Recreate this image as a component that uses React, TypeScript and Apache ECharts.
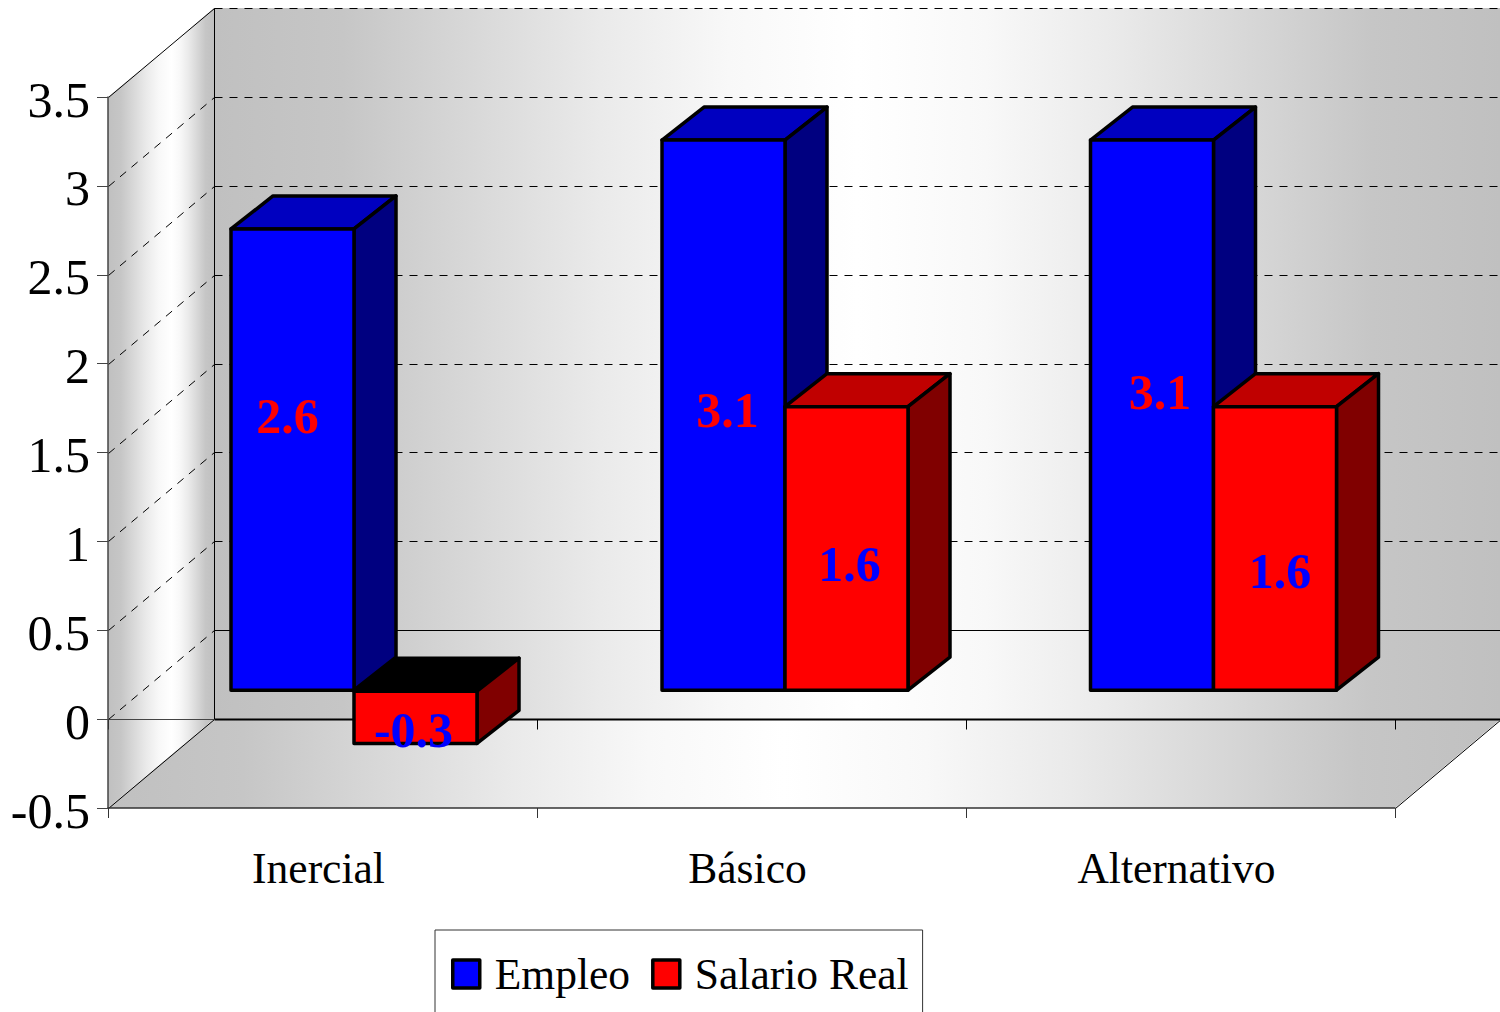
import React, { useEffect, useRef } from "react";
import * as echarts from "echarts";

const categories = ["Inercial", "Básico", "Alternativo"];
const empleo = [2.6, 3.1, 3.1];
const salarioReal = [-0.3, 1.6, 1.6];
const wallGridValues = [0, 0.5, 1, 1.5, 2, 2.5, 3];

// hand-placed data label nudges, px from the centre of each bar's front face
const empleoLabelNudge = [[-5, -44], [4, -5], [8, -23]];
const salarioLabelNudge = [[-2, 13], [3, 16], [5, 23]];
// small per-category horizontal shift of the bar pair, px
const pairShift = [-1, 1, 0.5];

const FONT = '"Liberation Serif", "Times New Roman", serif';
const WALL_DX = 106;
const WALL_DY = 89;
const BAR_SHIFT_Y = 29;
const BAR_DX = 42;
const BAR_DY = 33;
const BAR_W = 123;
const BAR_LEFT = -90.5;

const grayGrad = (mid: number) => {
  const left = [[0, 0xc0], [0.2, 0xc6], [0.4, 0xd8], [0.6, 0xea], [0.8, 0xf8]];
  const right = [[0.2, 0xf8], [0.4, 0xea], [0.6, 0xd8], [0.8, 0xc6], [1, 0xc0]];
  const hex = (g: number) => `rgb(${g},${g},${g})`;
  return new echarts.graphic.LinearGradient(0, 0, 1, 0, [
    ...left.map(([o, g]) => ({ offset: o * mid, color: hex(g) })),
    { offset: mid, color: "#ffffff" },
    ...right.map(([o, g]) => ({ offset: mid + o * (1 - mid), color: hex(g) })),
  ]);
};

const snap = (v: number) => Math.round(v) + 0.5;

const line = (x1: number, y1: number, x2: number, y2: number, style: any = {}) => ({
  type: "line",
  silent: true,
  shape: { x1: snap(x1), y1: snap(y1), x2: snap(x2), y2: snap(y2) },
  style: { stroke: "#000", lineWidth: 1, ...style },
});

function renderWalls(params: any, api: any) {
  const cs = params.coordSys;
  const x0 = cs.x;
  const x1 = cs.x + cs.width;
  const yOf = (v: number) => api.coord([0, v])[1];
  const yTop = yOf(3.5);
  const yBot = yOf(-0.5);
  const yZero = yOf(0);
  const band = api.size([1, 0])[0];
  const dash = { lineDash: [8, 7] };
  const children: any[] = [
    {
      type: "polygon",
      shape: { points: [[x0, yTop], [x0 + WALL_DX, yTop - WALL_DY], [x0 + WALL_DX, yBot - WALL_DY], [x0, yBot]] },
      style: { fill: grayGrad(0.6) },
    },
    {
      type: "rect",
      shape: { x: x0 + WALL_DX, y: yTop - WALL_DY, width: cs.width, height: yBot - yTop },
      style: { fill: grayGrad(0.5) },
    },
    {
      type: "polygon",
      shape: { points: [[x0, yBot], [x0 + WALL_DX, yBot - WALL_DY], [x1 + WALL_DX, yBot - WALL_DY], [x1, yBot]] },
      style: { fill: grayGrad(0.485) },
    },
    line(x0 + WALL_DX, yTop - WALL_DY, x1 + WALL_DX, yTop - WALL_DY, dash),
    line(x0, yTop, x0 + WALL_DX, yTop - WALL_DY),
    line(x0, yBot, x0 + WALL_DX, yBot - WALL_DY),
    line(x1, yBot, x1 + WALL_DX, yBot - WALL_DY),
    line(x0 + WALL_DX, yTop - WALL_DY, x0 + WALL_DX, yBot - WALL_DY),
    line(x0 + WALL_DX, yBot - WALL_DY, x1 + WALL_DX, yBot - WALL_DY, { lineWidth: 2 }),
    line(x0, yZero, x0 + WALL_DX, yZero, { stroke: "#444" }),
  ];
  wallGridValues.forEach((v) => {
    const y = yOf(v);
    children.push(line(x0, y, x0 + WALL_DX, y - WALL_DY, dash));
    children.push(line(x0 + WALL_DX, y - WALL_DY, x1 + WALL_DX, y - WALL_DY, v === 0 ? {} : dash));
  });
  for (let i = 0; i <= categories.length; i++) {
    const x = x0 + i * band;
    children.push(line(x, yZero, x, yZero + 10));
  }
  return { type: "group", children };
}

const makeBar = (
  slot: number,
  front: string,
  side: string,
  top: string,
  negTop: string,
  labelColor: string,
  nudges: number[][]
) =>
  function renderBar(_params: any, api: any) {
    const idx = api.value(0);
    const v = api.value(1);
    const [cx, y0raw] = api.coord([idx, 0]);
    const y1raw = api.coord([idx, v])[1];
    const y0 = y0raw - BAR_SHIFT_Y;
    const y1 = y1raw - BAR_SHIFT_Y;
    const yT = Math.min(y0, y1) + 1;
    const yB = Math.max(y0, y1);
    const l = cx + BAR_LEFT + pairShift[idx] + slot * BAR_W;
    const r = l + BAR_W;
    const stroke = { stroke: "#000", lineWidth: 3.5, lineJoin: "round" };
    const n = nudges[idx];
    return {
      type: "group",
      children: [
        {
          type: "polygon",
          shape: { points: [[l, yT], [l + BAR_DX, yT - BAR_DY], [r + BAR_DX, yT - BAR_DY], [r, yT]] },
          style: { fill: v < 0 ? negTop : top, ...stroke },
        },
        {
          type: "polygon",
          shape: { points: [[r, yT], [r + BAR_DX, yT - BAR_DY], [r + BAR_DX, yB - BAR_DY], [r, yB]] },
          style: { fill: side, ...stroke },
        },
        {
          type: "rect",
          shape: { x: l, y: yT, width: BAR_W, height: yB - yT },
          style: { fill: front, ...stroke },
        },
        {
          type: "text",
          style: {
            text: String(v),
            x: (l + r) / 2 + n[0],
            y: (yT + yB) / 2 + n[1],
            align: "center",
            verticalAlign: "middle",
            fill: labelColor,
            fontFamily: FONT,
            fontSize: 50,
            fontWeight: "bold",
          },
        },
      ],
    };
  };

export default function App() {
  const ref = useRef<HTMLDivElement>(null);
  useEffect(() => {
    const chart = echarts.init(ref.current!, null, { renderer: "svg" });
    chart.setOption({
      animation: false,
      backgroundColor: "#ffffff",
      textStyle: { fontFamily: FONT, color: "#000" },
      grid: { left: 108, top: 97, width: 1287, height: 711, containLabel: false },
      xAxis: {
        type: "category",
        data: categories,
        z: 5,
        axisLine: { onZero: false, lineStyle: { color: "#333", width: 1.5 } },
        axisTick: { show: true, length: 10, lineStyle: { color: "#333" } },
        axisLabel: { fontSize: 43.5, color: "#000", fontFamily: FONT, margin: 38, padding: [0, 8, 0, 0], interval: 0 },
        splitLine: { show: false },
      },
      yAxis: {
        type: "value",
        min: -0.5,
        max: 3.5,
        interval: 0.5,
        z: 5,
        axisLine: { show: true, lineStyle: { color: "#444", width: 1.5 } },
        axisTick: { show: true, length: 11, lineStyle: { color: "#444" } },
        axisLabel: {
          fontSize: 50,
          color: "#000",
          fontFamily: FONT,
          margin: 18,
          formatter: (v: number) => `{t|${v}}`,
          rich: { t: { fontSize: 50, fontFamily: FONT, color: "#000", padding: [5, 0, 0, 0] } },
        },
        splitLine: { show: false },
      },
      legend: {
        data: ["Empleo", "Salario Real"],
        left: 435,
        top: 930,
        orient: "horizontal",
        icon: "rect",
        itemWidth: 27,
        itemHeight: 28,
        itemGap: 21,
        padding: [22, 14, 40, 16],
        borderColor: "#333",
        borderWidth: 1,
        backgroundColor: "#fff",
        itemStyle: { borderColor: "#000", borderWidth: 3.5, borderJoin: "round" },
        textStyle: { fontSize: 43.5, color: "#000", fontFamily: FONT, padding: [8, 0, 0, 10] },
      },
      series: [
        { type: "custom", name: "walls", silent: true, z: 1, renderItem: renderWalls, data: [[0, 0]], encode: { x: 0, y: 1 } },
        {
          type: "custom",
          name: "Empleo",
          z: 2,
          itemStyle: { color: "#0000ff", borderColor: "#000", borderWidth: 3 },
          renderItem: makeBar(0, "#0000ff", "#000080", "#0000c0", "#000000", "#ff0000", empleoLabelNudge),
          data: empleo.map((v, i) => [i, v]),
          encode: { x: 0, y: 1 },
        },
        {
          type: "custom",
          name: "Salario Real",
          z: 3,
          itemStyle: { color: "#ff0000", borderColor: "#000", borderWidth: 3 },
          renderItem: makeBar(1, "#ff0000", "#800000", "#c00000", "#000000", "#0000ff", salarioLabelNudge),
          data: salarioReal.map((v, i) => [i, v]),
          encode: { x: 0, y: 1 },
        },
      ],
    });
    return () => chart.dispose();
  }, []);
  return <div ref={ref} style={{ position: "absolute", left: 0, top: 0, width: 1500, height: 1012, overflow: "hidden" }} />;
}
